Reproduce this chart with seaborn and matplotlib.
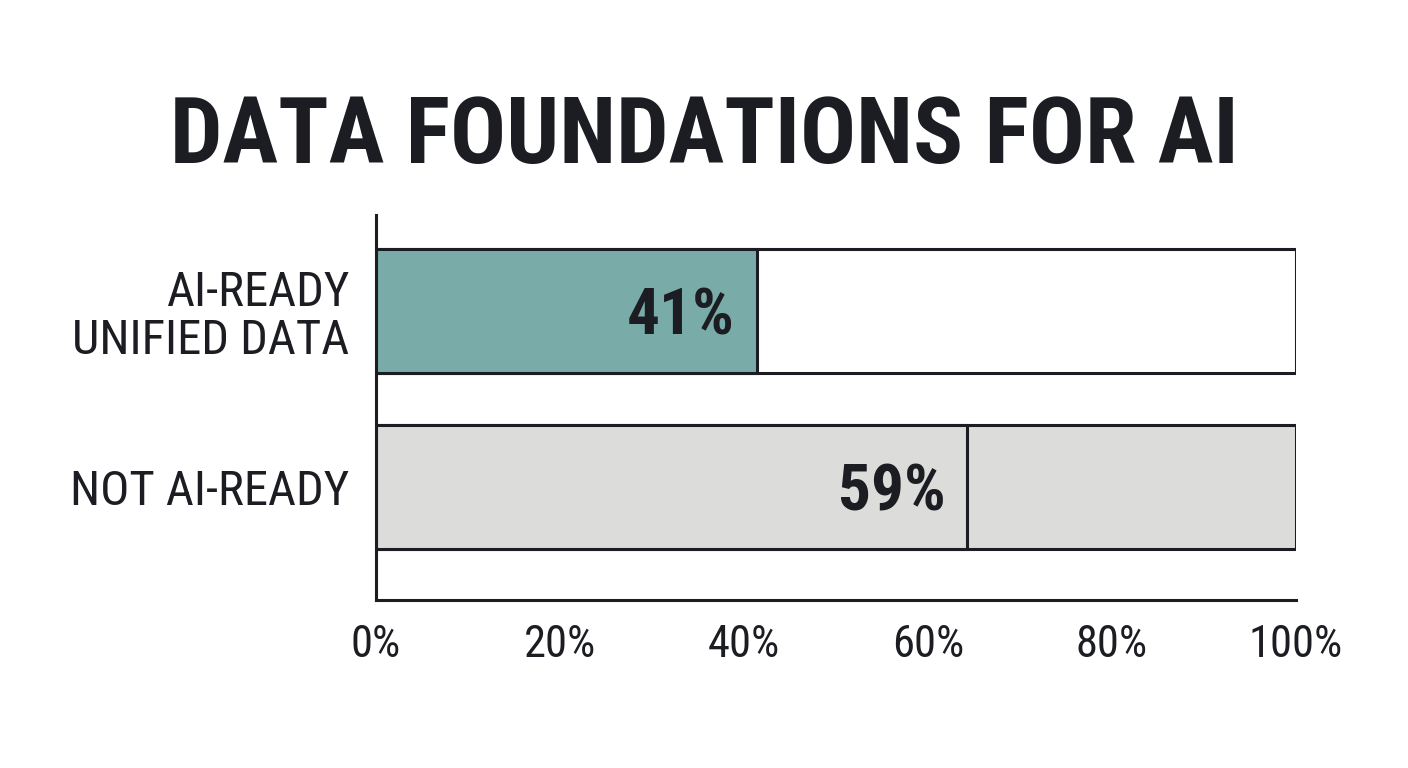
import matplotlib
matplotlib.use('Agg')
import matplotlib.pyplot as plt
import seaborn as sns
import pandas as pd
from matplotlib import font_manager

categories = ['AI-READY\nUNIFIED DATA', 'NOT AI-READY']
value_labels = [41, 59]
split_pos = [41.4, 64.3]   # where the divider line sits in the picture
totals = [100, 100]
xticks = [0, 20, 40, 60, 80, 100]

fill_colors = ['#79aca8', '#dcdcda']
back_colors = ['#ffffff', '#dcdcda']
ink = '#1c1d22'

sns.set_style('white')
installed = {f.name for f in font_manager.fontManager.ttflist}
font = next((f for f in ['Roboto Condensed', 'Liberation Sans Narrow', 'Open Sans Condensed', 'Roboto']
             if f in installed), 'DejaVu Sans')
plt.rcParams['font.family'] = [font, 'DejaVu Sans']
plt.rcParams['text.color'] = ink

df = pd.DataFrame({'category': categories, 'total': totals, 'split': split_pos, 'label': value_labels})

fig = plt.figure(figsize=(14.08, 7.68), dpi=100)
ax = fig.add_axes([0.267, 0.21875, 0.6534, 0.5013])

# full-width background bars, then the part up to the divider on top
sns.barplot(data=df, x='total', y='category', hue='category', palette=back_colors, orient='h',
            width=0.705, saturation=1, edgecolor=ink, linewidth=2.2, legend=False, ax=ax)
sns.barplot(data=df, x='split', y='category', hue='category', palette=fill_colors, orient='h',
            width=0.705, saturation=1, edgecolor=ink, linewidth=2.2, legend=False, ax=ax)

value_size = 47
for i, row in df.iterrows():
    ax.annotate(f"{row['label']}%", xy=(row['split'], i), xytext=(-16, -0.71 * value_size / 2),
                textcoords='offset points', ha='right', va='baseline',
                fontsize=value_size, fontweight='bold', color=ink)

ax.set_xlim(0, 100)
ax.set_ylim(1.642, -0.5455)
ax.set_xticks(xticks)
ax.set_xticklabels([f'{t}%' for t in xticks])
ax.set_xlabel('')
ax.set_ylabel('')
ax.tick_params(axis='x', direction='in', length=7, width=2.2, color=ink, pad=17, labelsize=32, labelcolor=ink)
ax.tick_params(axis='y', length=0, pad=19, labelsize=35, labelcolor=ink)
for lbl in ax.get_yticklabels():
    lbl.set_linespacing(1.05)

sns.despine(ax=ax)
for side in ['left', 'bottom']:
    ax.spines[side].set_linewidth(2.2)
    ax.spines[side].set_color(ink)

fig.text(0.5, 1 - 163 / 768, 'DATA FOUNDATIONS FOR AI', ha='center', va='baseline',
         fontsize=67, fontweight='bold', color=ink)

fig.savefig('out.png', dpi=100, facecolor='white')
